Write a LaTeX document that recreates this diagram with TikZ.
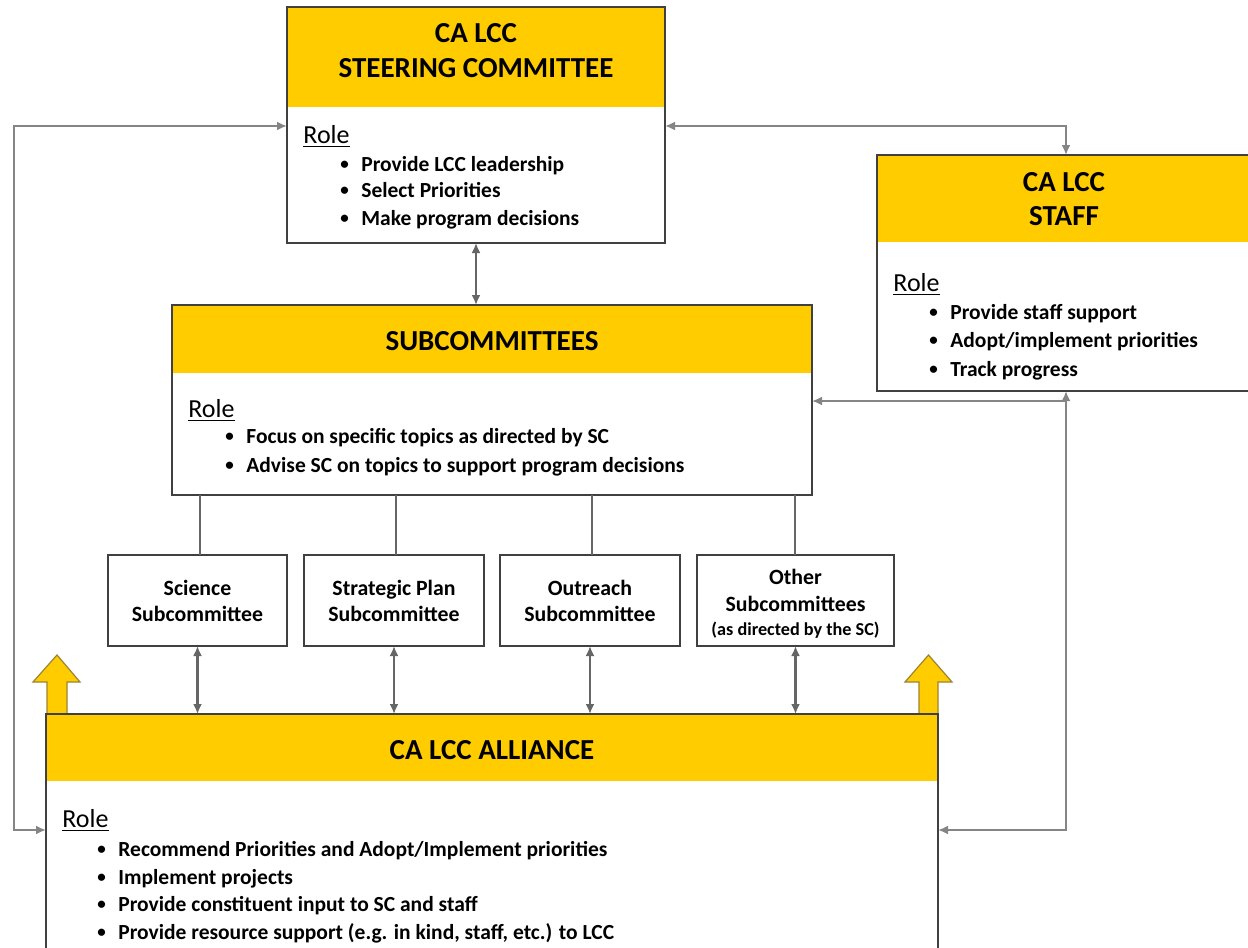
\documentclass[tikz,border=0pt]{standalone}
\usepackage{fontspec}
\setmainfont{Carlito}
\usetikzlibrary{arrows.meta}
\definecolor{gold}{HTML}{FFCC00}
\definecolor{edge}{HTML}{404040}
\definecolor{conn}{HTML}{858585}
\definecolor{connd}{HTML}{666666}
\definecolor{goldedge}{HTML}{9C8430}
\newcommand{\bl}[1]{\makebox[10.5pt][l]{\raisebox{0.6pt}{\fontsize{8.5}{8.5}\selectfont\textbullet}}#1}
\begin{document}
\begin{tikzpicture}[x=0.5pt,y=-0.5pt,
 >={Latex[length=5pt,width=4.5pt]},
 box/.style={draw=edge, line width=1pt, fill=white, inner sep=0, outer sep=0, rectangle},
 frame/.style={draw=edge, line width=1pt},
 ttl/.style={font=\fontsize{14.5}{16}\selectfont\bfseries, inner sep=0, anchor=base},
 role/.style={font=\fontsize{13}{15}\selectfont, inner sep=0, anchor=base west},
 bt/.style={font=\fontsize{10.75}{13}\selectfont\bfseries, inner sep=0, anchor=base west},
 sm/.style={font=\fontsize{10.9}{13}\selectfont\bfseries, inner sep=0, anchor=base},
 tinyt/.style={font=\fontsize{9.1}{10}\selectfont\bfseries, inner sep=0, anchor=base},
 conline/.style={draw=conn, line width=1.3pt},
 plain/.style={draw=connd, line width=1pt},
 dbl/.style={draw=connd, line width=1.4pt, <->},
 blk/.style={fill=gold, draw=goldedge, line width=0.6pt}]
\useasboundingbox (0,0) rectangle (1248,948);
\clip (0,0) rectangle (1248,948);
\fill[white] (0,0) rectangle (1248,948);

% ---- Steering committee
\node[box, minimum width=189pt, minimum height=118pt] (sc) at (476,125) {};
\fill[gold] (sc.north west) rectangle ([yshift=-50pt]sc.north east);
\draw[frame] (sc.north west) rectangle (sc.south east);
\node[ttl] (sct1) at (476,42) {CA LCC};
\node[ttl] (sct2) at (476,77) {STEERING COMMITTEE};
\node[role] (scr) at (303,143) {\underline{Role}};
\node[bt] (scb1) at (340,171) {\bl{Provide LCC leadership}};
\node[bt] (scb2) at (340,197) {\bl{Select Priorities}};
\node[bt] (scb3) at (340,225) {\bl{Make program decisions}};

% ---- Staff
\node[box, minimum width=187.5pt, minimum height=118pt] (st) at (1064.5,273) {};
\fill[gold] (st.north west) rectangle ([yshift=-43.5pt]st.north east);
\draw[frame] (st.north west) rectangle (st.south east);
\node[ttl] (stt1) at (1064,191) {CA LCC};
\node[ttl] (stt2) at (1064,225) {STAFF};
\node[role] (str) at (893,291) {\underline{Role}};
\node[bt] (stb1) at (929,319) {\bl{Provide staff support}};
\node[bt] (stb2) at (929,347) {\bl{Adopt/implement priorities}};
\node[bt] (stb3) at (929,376) {\bl{Track progress}};

% ---- Subcommittees
\node[box, minimum width=320pt, minimum height=95pt] (sub) at (492,400) {};
\fill[gold] (sub.north west) rectangle ([yshift=-34pt]sub.north east);
\draw[frame] (sub.north west) rectangle (sub.south east);
\node[ttl] (subt) at (492,350) {SUBCOMMITTEES};
\node[role] (subr) at (188,417) {\underline{Role}};
\node[bt] (subb1) at (225,443) {\bl{Focus on specific topics as directed by SC}};
\node[bt] (subb2) at (225,472) {\bl{Advise SC on topics to support program decisions}};

% ---- small subcommittee boxes
\node[box, minimum width=89.5pt, minimum height=45.5pt] (sci) at (197.5,600.5) {};
\node[box, minimum width=90pt, minimum height=45.5pt] (stp) at (394,600.5) {};
\node[box, minimum width=90pt, minimum height=45.5pt] (out) at (590,600.5) {};
\node[box, minimum width=98.5pt, minimum height=45.5pt] (oth) at (795.5,600.5) {};
\node[sm] (sci1) at (197.5,595) {Science};
\node[sm] (sci2) at (197.5,621) {Subcommittee};
\node[sm] (stp1) at (394,595) {Strategic Plan};
\node[sm] (stp2) at (394,621) {Subcommittee};
\node[sm] (out1) at (590,595) {Outreach};
\node[sm] (out2) at (590,621) {Subcommittee};
\node[sm] (oth1) at (795.5,584) {Other};
\node[sm] (oth2) at (795.5,611) {Subcommittees};
\node[tinyt] (oth3) at (795.5,635) {(as directed by the SC)};

% ---- yellow block arrows
\draw[blk] (47,718) -- (47,682) -- (33,682) -- (57,655) -- (80,682) -- (67,682) -- (67,718) -- cycle;
\draw[blk] (919,718) -- (919,682) -- (905,682) -- (928.5,655) -- (952,682) -- (938,682) -- (938,718) -- cycle;

% ---- Alliance
\node[box, minimum width=446pt, minimum height=133pt] (al) at (492,847) {};
\fill[gold] (al.north west) rectangle ([yshift=-33.5pt]al.north east);
\draw[frame] (al.north west) rectangle (al.south east);
\node[ttl] (alt) at (492,759) {CA LCC ALLIANCE};
\node[role] (alr) at (62,827) {\underline{Role}};
\node[bt] (alb1) at (97,856) {\bl{Recommend Priorities and Adopt/Implement priorities}};
\node[bt] (alb2) at (97,884) {\bl{Implement projects}};
\node[bt] (alb3) at (97,911) {\bl{Provide constituent input to SC and staff}};
\node[bt] (alb4) at (97,939) {\bl{Provide resource support (e.g. in kind, staff, etc.) to LCC}};

% ---- connectors
\coordinate (L1) at (14,126);
\coordinate (L2) at (14,830);
\coordinate (R1) at (1066,126);
\coordinate (R2) at (1066,830);
\coordinate (R3) at (1066,401);
\draw[conline, <->] (sc.west |- L1) -- (L1) -- (L2) -- (al.west |- L2);
\draw[conline, <->] (sc.east |- R1) -- (R1) -- (R1 |- st.north);
\draw[conline, <->] (R2 |- st.south) -- (R2) -- (al.east |- R2);
\draw[conline, ->] (R3) -- (sub.east |- R3);
\draw[dbl] (sc.south) -- (sc.south |- sub.north);
\foreach \b/\x in {sci/200,stp/396,out/592,oth/795}{
  \draw[plain] (\x,0 |- \b.north) -- (\x,0 |- sub.south);
}
\foreach \b in {sci,stp,out,oth}{
  \draw[dbl] (\b.south) -- (\b.south |- al.north);
}
\end{tikzpicture}
\end{document}
